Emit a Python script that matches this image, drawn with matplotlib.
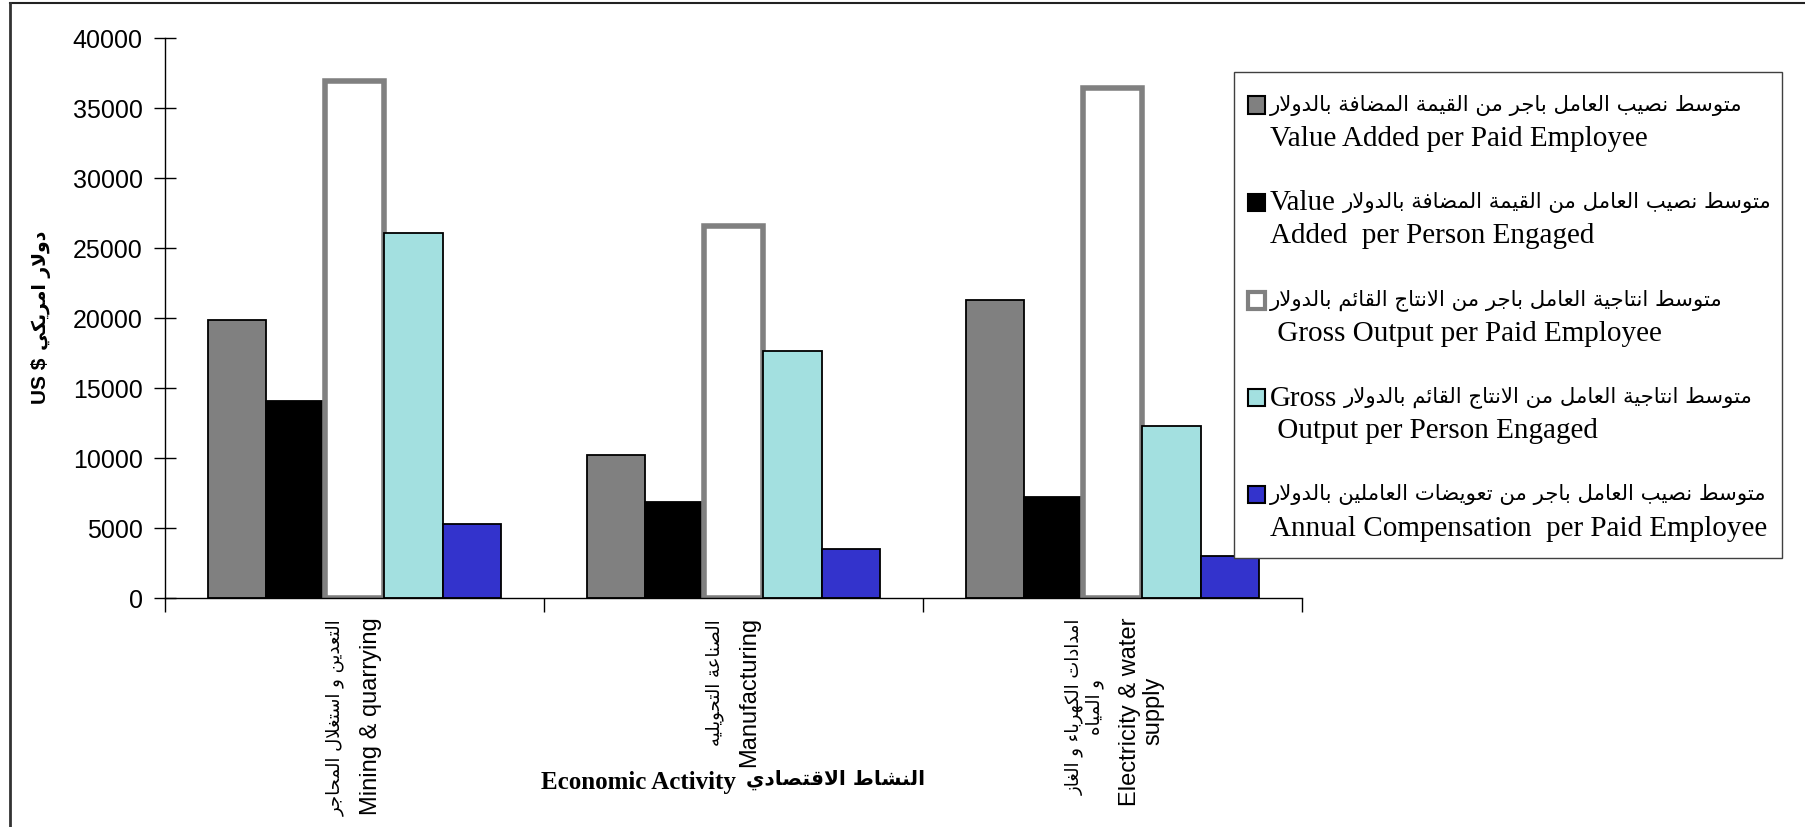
import matplotlib
matplotlib.use("Agg")
import matplotlib.pyplot as plt
from matplotlib.patches import Rectangle
from matplotlib.lines import Line2D
from matplotlib.transforms import offset_copy
import numpy as np

# ---------------- data ----------------
categories_ar = ["التعدين و استغلال المحاجر", "الصناعة التحويليه", "امدادات الكهرباء و الغاز\nو المياه"]
categories_en = ["Mining & quarrying", "Manufacturing", "Electricity & water\nsupply"]

series_ar = [
    "متوسط نصيب العامل باجر من القيمة المضافة بالدولار",
    "متوسط نصيب العامل من القيمة المضافة بالدولار",
    "متوسط انتاجية العامل باجر من الانتاج القائم بالدولار",
    "متوسط انتاجية العامل من الانتاج القائم بالدولار",
    "متوسط نصيب العامل باجر من تعويضات العاملين بالدولار",
]
series_en_head = ["", "Value", "", "Gross", ""]
series_en_tail = [
    "Value Added per Paid Employee",
    "Added  per Person Engaged",
    " Gross Output per Paid Employee",
    " Output per Person Engaged",
    "Annual Compensation  per Paid Employee",
]

value_added_paid = [19850, 10250, 21300]
value_added_person = [14050, 6880, 7200]
gross_output_paid = [36900, 26550, 36450]
gross_output_person = [26100, 17650, 12300]
compensation_paid = [5300, 3500, 3000]

series_values = [value_added_paid, value_added_person, gross_output_paid,
                 gross_output_person, compensation_paid]
face_colors = ["#808080", "#000000", "#ffffff", "#a3e0e0", "#3333cc"]
edge_colors = ["#000000", "#000000", "#808080", "#000000", "#000000"]
edge_widths = [1.3, 1.3, 4.0, 1.3, 1.3]

y_label_ar = "دولار امريكي"
y_label_en = "US $"
x_label_ar = "النشاط الاقتصادي"
x_label_en = "Economic Activity"

# ---------------- minimal Arabic shaping ----------------
_DUAL = {0x0626: 0xFE89, 0x0628: 0xFE8F, 0x062A: 0xFE95, 0x062B: 0xFE99, 0x062C: 0xFE9D,
         0x062D: 0xFEA1, 0x062E: 0xFEA5, 0x0633: 0xFEB1, 0x0634: 0xFEB5, 0x0635: 0xFEB9,
         0x0636: 0xFEBD, 0x0637: 0xFEC1, 0x0638: 0xFEC5, 0x0639: 0xFEC9, 0x063A: 0xFECD,
         0x0641: 0xFED1, 0x0642: 0xFED5, 0x0643: 0xFED9, 0x0644: 0xFEDD, 0x0645: 0xFEE1,
         0x0646: 0xFEE5, 0x0647: 0xFEE9, 0x064A: 0xFEF1}
_RIGHT = {0x0622: 0xFE81, 0x0623: 0xFE83, 0x0624: 0xFE85, 0x0625: 0xFE87, 0x0627: 0xFE8D,
          0x0629: 0xFE93, 0x062F: 0xFEA9, 0x0630: 0xFEAB, 0x0631: 0xFEAD, 0x0632: 0xFEAF,
          0x0648: 0xFEED, 0x0649: 0xFEEF}
_LAMALEF = {0x0622: 0xFEF5, 0x0623: 0xFEF7, 0x0625: 0xFEF9, 0x0627: 0xFEFB}


def _shape(s):
    toks = []
    i = 0
    while i < len(s):
        c = ord(s[i])
        if c == 0x0644 and i + 1 < len(s) and ord(s[i + 1]) in _LAMALEF:
            toks.append(("L", _LAMALEF[ord(s[i + 1])]))
            i += 2
        elif c in _DUAL:
            toks.append(("D", _DUAL[c])); i += 1
        elif c in _RIGHT:
            toks.append(("R", _RIGHT[c])); i += 1
        else:
            toks.append(("N", c)); i += 1
    out = []
    for k, (kind, val) in enumerate(toks):
        if kind == "N":
            out.append(chr(val)); continue
        prev_d = k > 0 and toks[k - 1][0] == "D"
        next_j = k + 1 < len(toks) and toks[k + 1][0] in ("D", "R", "L")
        if kind == "D":
            if prev_d and next_j:
                g = val + 3
            elif prev_d:
                g = val + 1
            elif next_j:
                g = val + 2
            else:
                g = val
        else:
            g = val + 1 if prev_d else val
        out.append(chr(g))
    return "".join(out)


def ar(s):
    return "\n".join(_shape(line)[::-1] for line in s.split("\n"))


# ---------------- figure ----------------
W, H = 1805, 827
fig = plt.figure(figsize=(W / 100, H / 100), dpi=100)
fig.patch.set_facecolor("white")


def fx(x):
    return x / W


def fy(y):
    return 1 - y / H


ax_l, ax_r, ax_t, ax_b = 165, 1302, 38, 598
ax = fig.add_axes([fx(ax_l), fy(ax_b), (ax_r - ax_l) / W, (ax_b - ax_t) / H])

sans = ["Liberation Sans", "DejaVu Sans"]
serif = ["Liberation Serif", "DejaVu Sans"]
arab = ["DejaVu Sans"]

n_series = len(series_values)
x = np.arange(len(categories_en))
bw = 0.155
for i, vals in enumerate(series_values):
    ax.bar(x + (i - (n_series - 1) / 2) * bw, vals, width=bw, color=face_colors[i],
           edgecolor=edge_colors[i], linewidth=edge_widths[i], zorder=2)

ax.set_xlim(-0.5, len(categories_en) - 0.5)
ax.set_ylim(0, 40000)
ax.set_yticks(np.arange(0, 40001, 5000))
ax.set_yticklabels([str(v) for v in range(0, 40001, 5000)], family=sans, fontsize=18)
ax.tick_params(axis="y", direction="inout", length=16, width=1, pad=8)

ax.set_xticks(x)
ax.set_xticklabels([""] * len(x))
ax.tick_params(axis="x", which="major", length=0)
ax.set_xticks(np.arange(-0.5, len(categories_en), 1.0), minor=True)
ax.tick_params(axis="x", which="minor", direction="out", length=10, width=1)

for s in ["top", "right"]:
    ax.spines[s].set_visible(False)
for s in ["left", "bottom"]:
    ax.spines[s].set_linewidth(1)
    ax.spines[s].set_color("black")

# category labels: Arabic block and English block, rotated, side by side
xt = ax.get_xaxis_transform()
px2pt = 0.72
for i in range(len(x)):
    n_ar = categories_ar[i].count("\n") + 1
    n_en = categories_en[i].count("\n") + 1
    ar_off = -19 if n_ar == 1 else -28
    en_off = 16 if n_en == 1 else 29
    ax.text(x[i], 0, ar(categories_ar[i]), family=arab, fontsize=13, rotation=90,
            ha="center", va="top", multialignment="center", linespacing=1.15,
            transform=offset_copy(xt, fig=fig, x=ar_off * px2pt, y=-21 * px2pt, units="points"))
    ax.text(x[i], 0, categories_en[i], family=sans, fontsize=17, rotation=90,
            ha="center", va="top", multialignment="center", linespacing=1.05,
            transform=offset_copy(xt, fig=fig, x=en_off * px2pt, y=-19 * px2pt, units="points"))

# y axis title: "US $" (bottom) then Arabic (above), rotated
fig.text(fx(41), fy(381), y_label_en, family=sans, fontsize=15, fontweight="bold",
         rotation=90, ha="center", va="center")
fig.text(fx(41), fy(290), ar(y_label_ar), family=arab, fontsize=13.5, fontweight="bold",
         rotation=90, ha="center", va="center")

# x axis title: English then Arabic, centred at x=733 px
xl_en = fig.text(0, fy(782), x_label_en, family=serif, fontsize=18, fontweight="bold",
                 ha="left", va="center")
xl_ar = fig.text(0, fy(780), ar(x_label_ar), family=arab, fontsize=14.5, fontweight="bold",
                 ha="left", va="center")

# ---------------- legend (drawn in figure pixels) ----------------
lx0, lx1, ly0, ly1 = 1234, 1782, 72, 558
fig.patches.append(Rectangle((fx(lx0), fy(ly1)), (lx1 - lx0) / W, (ly1 - ly0) / H,
                             transform=fig.transFigure, facecolor="white",
                             edgecolor="#404040", linewidth=1.0, zorder=5))
first_y, step = 105, 97.5
msize = 17
heads = []
for i in range(n_series):
    yc = first_y + i * step
    fig.patches.append(Rectangle((fx(1256 - msize / 2), fy(yc + msize / 2)), msize / W, msize / H,
                                 transform=fig.transFigure, facecolor=face_colors[i],
                                 edgecolor=edge_colors[i],
                                 linewidth=3.0 if i == 2 else 1.5, zorder=6))
    h = None
    if series_en_head[i]:
        h = fig.text(fx(1270), fy(yc + 1), series_en_head[i], family=serif, fontsize=20.8,
                     ha="left", va="center", zorder=7)
    a = fig.text(fx(1270), fy(yc), ar(series_ar[i]), family=arab, fontsize=15.3,
                 ha="left", va="center", zorder=7)
    heads.append((h, a))
    fig.text(fx(1270), fy(yc + 34), series_en_tail[i], family=serif, fontsize=21,
             ha="left", va="center", zorder=7)

# position pieces that follow other pieces
fig.canvas.draw()
r = fig.canvas.get_renderer()
for h, a in heads:
    if h is not None:
        bb = h.get_window_extent(r)
        a.set_x((bb.x1 + 7) / W)
w_en = xl_en.get_window_extent(r).width
w_ar = xl_ar.get_window_extent(r).width
gap = 10
start = 733 - (w_en + gap + w_ar) / 2
xl_en.set_x(start / W)
xl_ar.set_x((start + w_en + gap) / W)

# ---------------- figure frame (top & left) ----------------
fig.add_artist(Line2D([fx(10), 1.0], [fy(3), fy(3)], transform=fig.transFigure,
                      color="#222222", linewidth=1.5))
fig.add_artist(Line2D([fx(10), fx(10)], [fy(3), 0.0], transform=fig.transFigure,
                      color="#333333", linewidth=2.0))

fig.savefig("out.png", dpi=100, facecolor="white")
